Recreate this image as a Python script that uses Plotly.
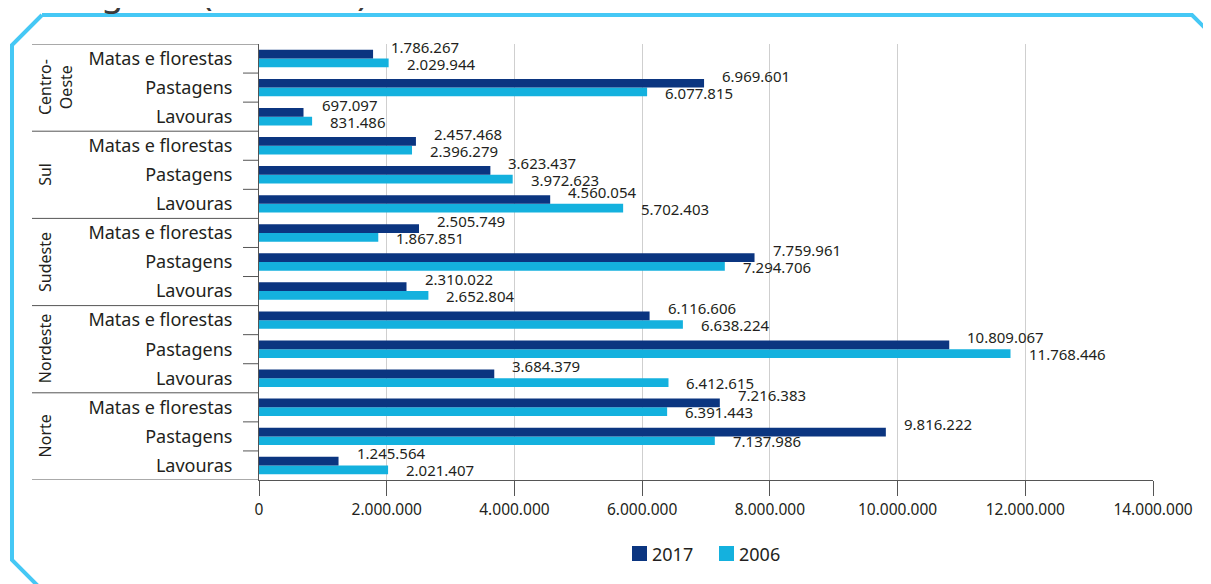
import plotly.graph_objects as go

# ---- data (bottom to top within the chart) ----
regions = ["Norte", "Nordeste", "Sudeste", "Sul", "Centro-<br>Oeste"]
uses = ["Lavouras", "Pastagens", "Matas e florestas"]
v2017 = [
    1245564, 9816222, 7216383,      # Norte
    3684379, 10809067, 6116606,     # Nordeste
    2310022, 7759961, 2505749,      # Sudeste
    4560054, 3623437, 2457468,      # Sul
    697097, 6969601, 1786267,       # Centro-Oeste
]
v2006 = [
    2021407, 7137986, 6391443,
    6412615, 11768446, 6638224,
    2652804, 7294706, 1867851,
    5702403, 3972623, 2396279,
    831486, 6077815, 2029944,
]
series_names = ["2017", "2006"]
x_ticks = [0, 2000000, 4000000, 6000000, 8000000, 10000000, 12000000, 14000000]

labels = [u for r in regions for u in uses]
pos = list(range(len(labels)))

DARK = "#0b3580"
LIGHT = "#14b1de"
TXT = "#231f20"
FONT = "Noto Sans"

OFF = 8  # page body margin
FW, FH = 1211 - OFF, 584 - OFF
# plot area in page pixels
L, R, T, B = 259, 1153, 44, 480
W, H = R - L, B - T


def px(x):
    return (x - L) / W


def py(y):
    return (B - y) / H


def fmt(v):
    return f"{v:,}".replace(",", ".")


fig = go.Figure()
fig.add_trace(go.Bar(y=pos, x=v2006, orientation="h", name=series_names[1],
                     marker=dict(color=LIGHT, line=dict(width=0)), showlegend=False))
fig.add_trace(go.Bar(y=pos, x=v2017, orientation="h", name=series_names[0],
                     marker=dict(color=DARK, line=dict(width=0)), showlegend=False))

ann = []
for p, a, b in zip(pos, v2017, v2006):
    ann.append(dict(x=a, y=p, xref="x", yref="y", text=fmt(a), showarrow=False,
                    xanchor="left", yanchor="middle", xshift=16, yshift=12,
                    font=dict(family=FONT, size=15, color=TXT)))
    ann.append(dict(x=b, y=p, xref="x", yref="y", text=fmt(b), showarrow=False,
                    xanchor="left", yanchor="middle", xshift=16, yshift=-5,
                    font=dict(family=FONT, size=15, color=TXT)))

n_use = len(uses)
for i, r in enumerate(regions):
    ann.append(dict(x=px(32), y=i * n_use + (n_use - 1) / 2, xref="paper", yref="y",
                    text=r, showarrow=False, textangle=-90, xanchor="left",
                    yanchor="middle", align="center",
                    font=dict(family=FONT, size=16, color=TXT)))

# partially visible title above the frame
ann.append(dict(x=px(90), y=py(17.5), xref="paper", yref="paper",
                text="igidas (hectares)", showarrow=False, xanchor="left",
                yanchor="bottom", font=dict(family=FONT, size=36, color="#3a3a3a")))

shapes = []
LINE = dict(color="#555555", width=1)
for k in range(len(regions) + 1):
    yv = k * n_use - 0.5
    shapes.append(dict(type="line", xref="paper", yref="y", x0=px(32), x1=0,
                       y0=yv, y1=yv, line=LINE))
for k in range(len(labels) - 1):
    if (k + 1) % n_use:
        yv = k + 0.5
        shapes.append(dict(type="line", xref="paper", yref="y", x0=px(243), x1=0,
                           y0=yv, y1=yv, line=LINE))
# frame with cut corners
frame = [(42, 15), (1192, 15), (1216, 39)]
frame_l = [(42, 15), (12, 45), (12, 560), (40, 588)]
for pts in (frame, frame_l):
    path = "M " + " L ".join(f"{px(a):.5f},{py(b):.5f}" for a, b in pts)
    shapes.append(dict(type="path", xref="paper", yref="paper", path=path,
                       line=dict(color="#45c8f5", width=4)))

# legend (drawn)
legend_items = [(series_names[0], DARK, 632), (series_names[1], LIGHT, 719)]
for name, col, x0 in legend_items:
    shapes.append(dict(type="rect", xref="paper", yref="paper",
                       x0=px(x0), x1=px(x0 + 15), y0=py(546), y1=py(561),
                       fillcolor=col, line=dict(width=0)))
    ann.append(dict(x=px(x0 + 18), y=py(554), xref="paper", yref="paper", text=name,
                    showarrow=False, xanchor="left", yanchor="middle",
                    font=dict(family=FONT, size=18, color=TXT)))

fig.update_layout(
    width=FW, height=FH,
    margin=dict(l=L - OFF, r=FW - (R - OFF), t=T - OFF, b=FH - (B - OFF), autoexpand=False),
    paper_bgcolor="white", plot_bgcolor="white",
    barmode="group", bargap=0.4, bargroupgap=0,
    separators=",.",
    font=dict(family=FONT, size=15, color=TXT),
    showlegend=False,
    annotations=ann,
    shapes=shapes,
    xaxis=dict(range=[0, 14000000], tickvals=x_ticks, tickformat=",d",
               showgrid=True, gridcolor="#cfcfcf", gridwidth=1,
               showline=True, linecolor="#555555", linewidth=1,
               ticks="outside", ticklen=15, tickcolor="#555555",
               zeroline=False, tickfont=dict(family=FONT, size=15.5, color=TXT)),
    yaxis=dict(range=[-0.5, len(labels) - 0.5], tickvals=pos, ticktext=labels,
               showgrid=False, zeroline=False, showline=True,
               linecolor="#555555", linewidth=1, ticks="",
               ticklabelstandoff=22,
               tickfont=dict(family=FONT, size=18, color=TXT)),
)

fig.write_html("out.html")
